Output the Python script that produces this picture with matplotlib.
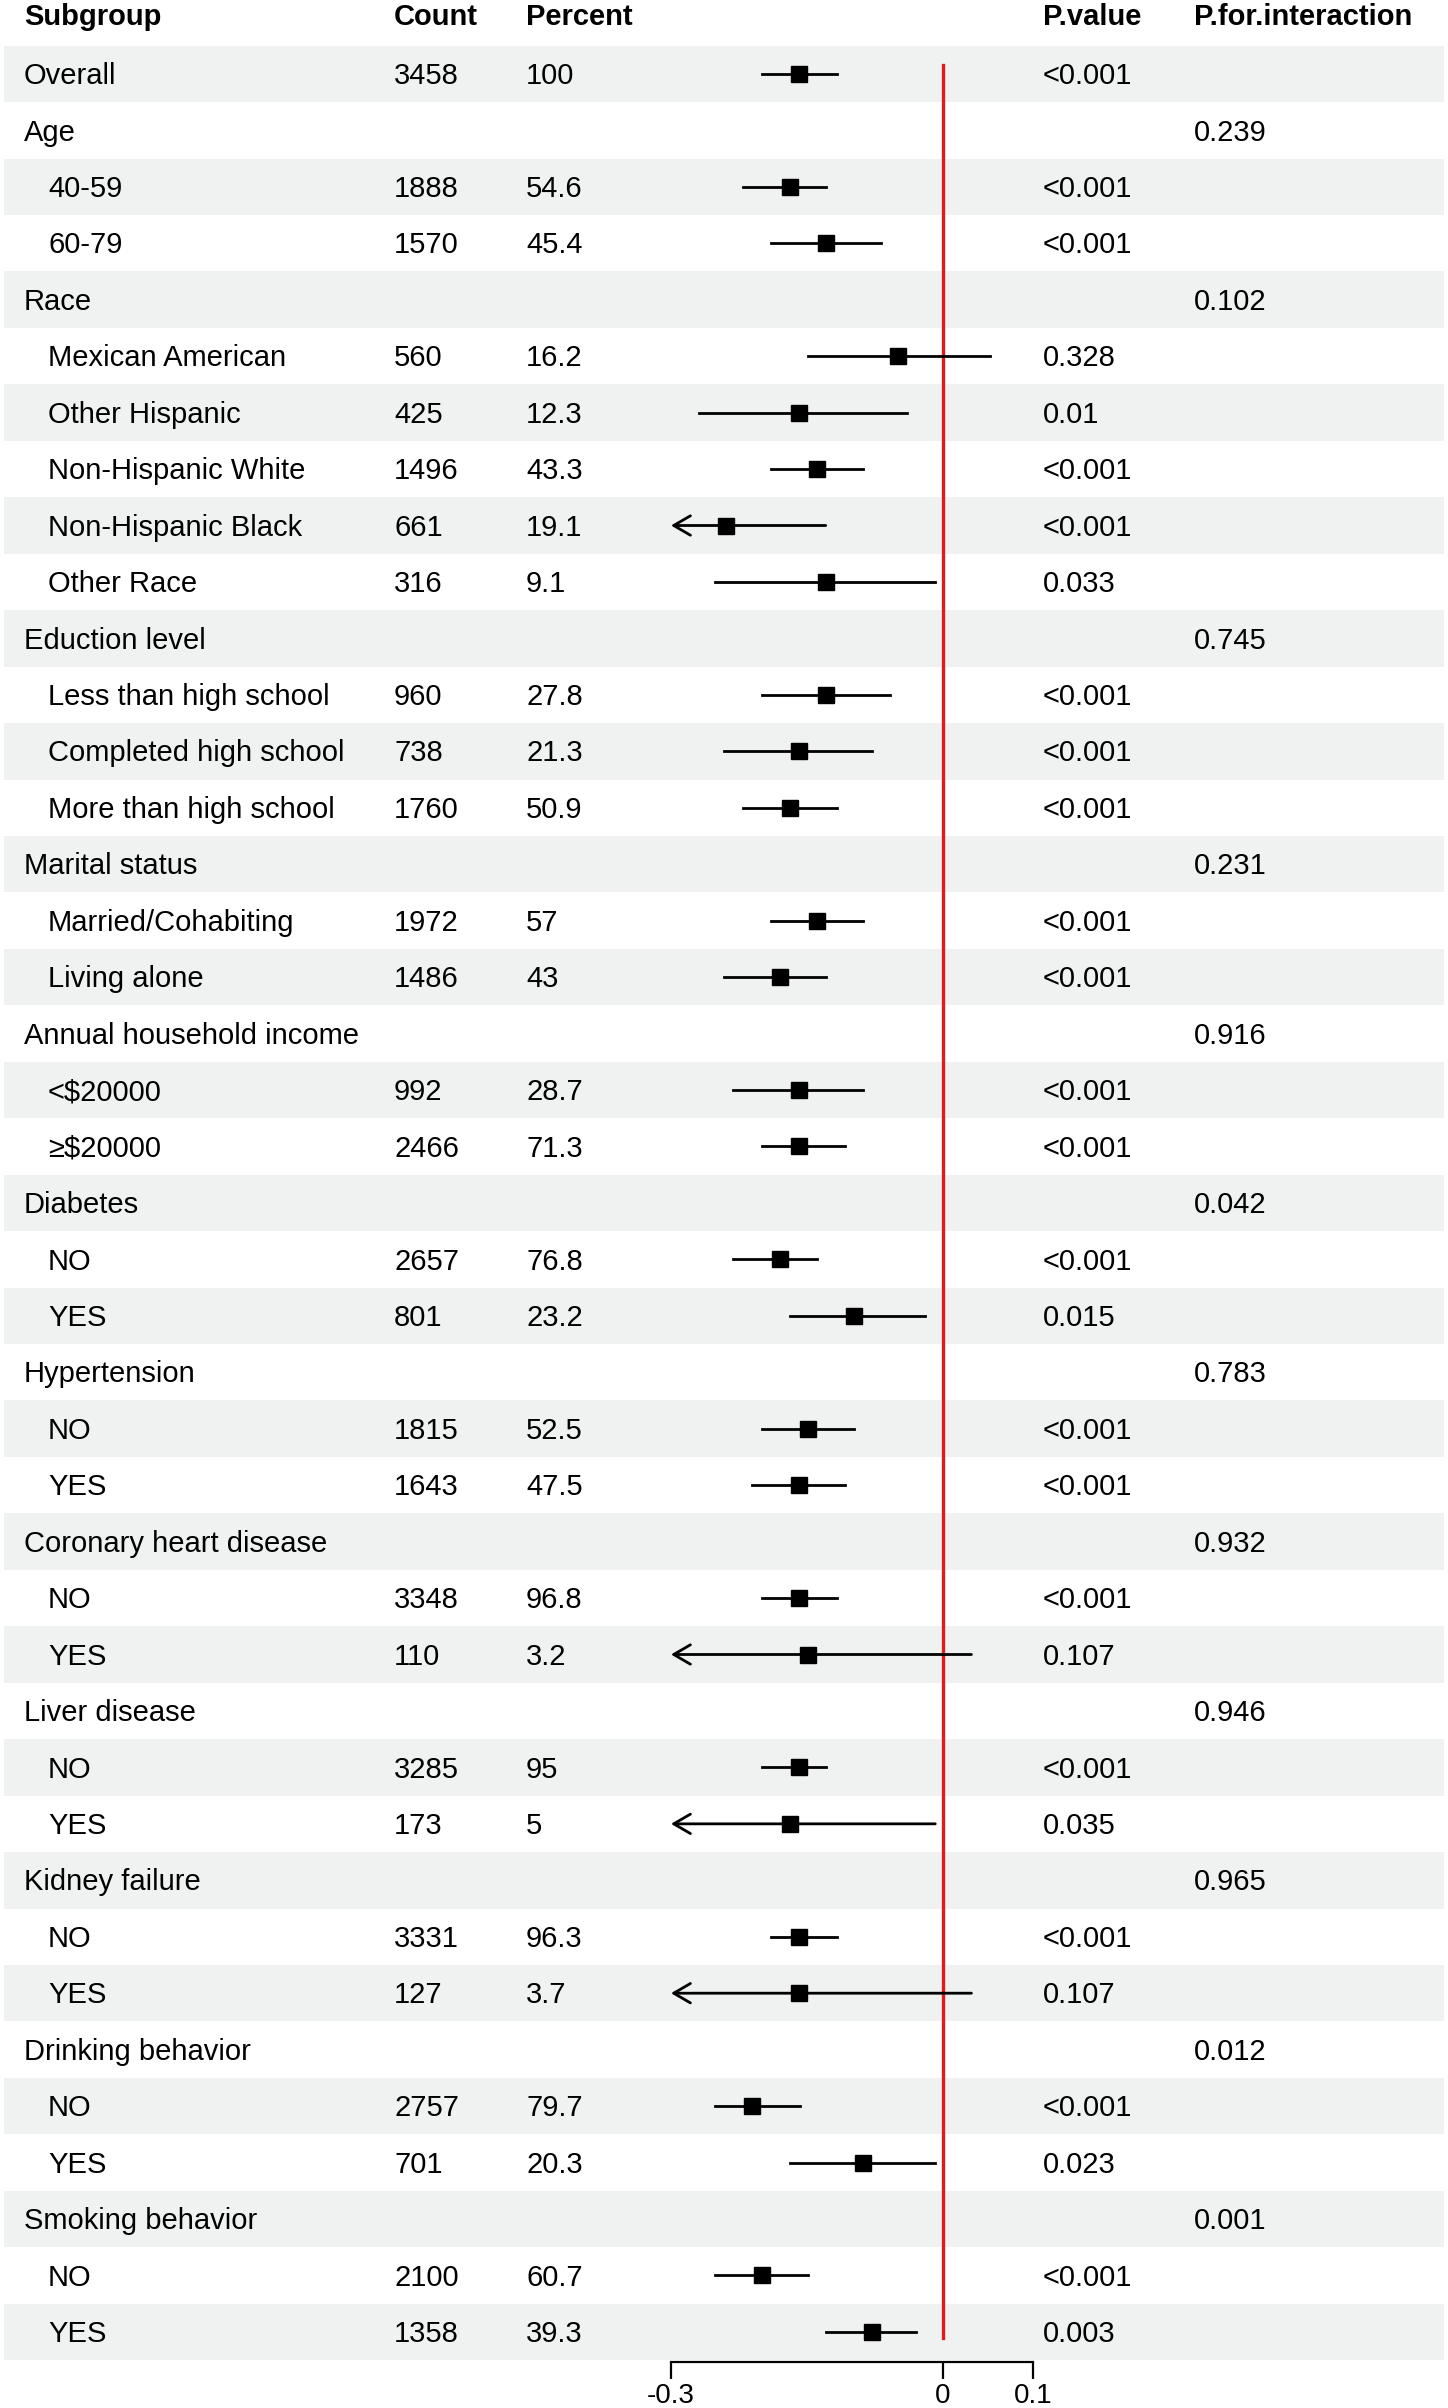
import matplotlib
matplotlib.use("Agg")
import matplotlib.pyplot as plt
import numpy as np

plt.rcParams['font.family'] = ['Liberation Sans', 'DejaVu Sans']

# table data (empty strings / None on group header rows)
subgroup = ["Overall", "Age", "40-59", "60-79", "Race", "Mexican American", "Other Hispanic",
            "Non-Hispanic White", "Non-Hispanic Black", "Other Race", "Eduction level",
            "Less than high school", "Completed high school", "More than high school",
            "Marital status", "Married/Cohabiting", "Living alone", "Annual household income",
            "<$20000", "≥$20000", "Diabetes", "NO", "YES", "Hypertension", "NO", "YES",
            "Coronary heart disease", "NO", "YES", "Liver disease", "NO", "YES",
            "Kidney failure", "NO", "YES", "Drinking behavior", "NO", "YES",
            "Smoking behavior", "NO", "YES"]
indent = [0, 0, 1, 1, 0, 1, 1, 1, 1, 1, 0, 1, 1, 1, 0, 1, 1, 0, 1, 1, 0, 1, 1, 0, 1, 1,
          0, 1, 1, 0, 1, 1, 0, 1, 1, 0, 1, 1, 0, 1, 1]
count = ["3458", "", "1888", "1570", "", "560", "425", "1496", "661", "316", "", "960", "738",
         "1760", "", "1972", "1486", "", "992", "2466", "", "2657", "801", "", "1815", "1643",
         "", "3348", "110", "", "3285", "173", "", "3331", "127", "", "2757", "701", "",
         "2100", "1358"]
percent = ["100", "", "54.6", "45.4", "", "16.2", "12.3", "43.3", "19.1", "9.1", "", "27.8",
           "21.3", "50.9", "", "57", "43", "", "28.7", "71.3", "", "76.8", "23.2", "", "52.5",
           "47.5", "", "96.8", "3.2", "", "95", "5", "", "96.3", "3.7", "", "79.7", "20.3", "",
           "60.7", "39.3"]
pvalue = ["<0.001", "", "<0.001", "<0.001", "", "0.328", "0.01", "<0.001", "<0.001", "0.033",
          "", "<0.001", "<0.001", "<0.001", "", "<0.001", "<0.001", "", "<0.001", "<0.001", "",
          "<0.001", "0.015", "", "<0.001", "<0.001", "", "<0.001", "0.107", "", "<0.001",
          "0.035", "", "<0.001", "0.107", "", "<0.001", "0.023", "", "<0.001", "0.003"]
p_inter = ["", "0.239", "", "", "0.102", "", "", "", "", "", "0.745", "", "", "", "0.231", "",
           "", "0.916", "", "", "0.042", "", "", "0.783", "", "", "0.932", "", "", "0.946", "",
           "", "0.965", "", "", "0.012", "", "", "0.001", "", ""]

est = [-0.159, None, -0.169, -0.129, None, -0.049, -0.159, -0.139, -0.239, -0.129, None,
       -0.129, -0.159, -0.169, None, -0.139, -0.180, None, -0.159, -0.159, None, -0.180,
       -0.098, None, -0.149, -0.159, None, -0.159, -0.149, None, -0.159, -0.169, None,
       -0.159, -0.159, None, -0.210, -0.088, None, -0.200, -0.078]
low = [-0.200, None, -0.220, -0.190, None, -0.149, -0.269, -0.190, -0.33, -0.251, None,
       -0.200, -0.241, -0.220, None, -0.190, -0.241, None, -0.231, -0.200, None, -0.231,
       -0.169, None, -0.200, -0.210, None, -0.200, -0.45, None, -0.200, -0.40, None,
       -0.190, -0.45, None, -0.251, -0.169, None, -0.251, -0.129]
high = [-0.117, None, -0.129, -0.068, None, 0.053, -0.039, -0.088, -0.129, -0.008, None,
        -0.058, -0.078, -0.117, None, -0.088, -0.129, None, -0.088, -0.108, None, -0.139,
        -0.019, None, -0.098, -0.108, None, -0.117, 0.032, None, -0.129, -0.008, None,
        -0.117, 0.032, None, -0.158, -0.008, None, -0.149, -0.029]

headers = ["Subgroup", "Count", "Percent", "P.value", "P.for.interaction"]
xticks = [-0.3, 0, 0.1]

W, H = 1448, 2408
row_h = 56.45
top_c = 73.9
n = len(subgroup)

fig = plt.figure(figsize=(W / 100, H / 100), dpi=100)
ax = fig.add_axes([0, 0, 1, 1])
ax.set_xlim(0, W)
ax.set_ylim((H - top_c) / row_h, -top_c / row_h)
ax.axis("off")

fs = 21
base = 0.18  # baseline offset so caps sit centred in the row
col_x = [24, 394, 526, 1043, 1194]

for i in range(n):
    if i % 2 == 0:
        ax.add_patch(plt.Rectangle((4, i - 0.5), 1440, 1, color="#eff2f1", lw=0, zorder=0))
    ax.text(col_x[0] + 24 * indent[i], i + base, subgroup[i], fontsize=fs, va="baseline")
    ax.text(col_x[1], i + base, count[i], fontsize=fs, va="baseline")
    ax.text(col_x[2], i + base, percent[i], fontsize=fs, va="baseline")
    ax.text(col_x[3], i + base, pvalue[i], fontsize=fs, va="baseline")
    ax.text(col_x[4], i + base, p_inter[i], fontsize=fs, va="baseline")

for x, h in zip(col_x, headers):
    ax.text(x, -1.05 + base, h, fontsize=fs, va="baseline", fontweight="bold")

# forest panel
ax_bottom = 2362
fa = fig.add_axes([671 / W, (H - ax_bottom) / H, (1033 - 671) / W, ax_bottom / H])
fa.set_xlim(-0.3, 0.1)
fa.set_ylim((ax_bottom - top_c) / row_h, -top_c / row_h)
fa.patch.set_alpha(0)
for s in ["top", "left", "right"]:
    fa.spines[s].set_visible(False)
fa.spines["bottom"].set_linewidth(1.6)
fa.set_yticks([])
fa.set_xticks(xticks)
fa.set_xticklabels(["-0.3", "0", "0.1"])
fa.tick_params(axis="x", length=12, width=1.6, labelsize=20, pad=3)

fa.plot([0, 0], [-0.15, n - 1 + 0.1], color="#e31a1c", lw=2.4, zorder=1)

for i in range(n):
    if est[i] is None:
        continue
    lo = low[i]
    if lo < -0.3:
        fa.annotate("", xy=(-0.3, i), xytext=(high[i], i),
                    arrowprops=dict(arrowstyle="->,head_length=1.2,head_width=0.7",
                                    lw=2, color="black", shrinkA=0, shrinkB=0), zorder=2)
    else:
        fa.plot([lo, high[i]], [i, i], color="black", lw=2, zorder=2)
    fa.plot(est[i], i, marker="s", color="black", markersize=11, zorder=3)

fig.savefig("out.png", dpi=100)
